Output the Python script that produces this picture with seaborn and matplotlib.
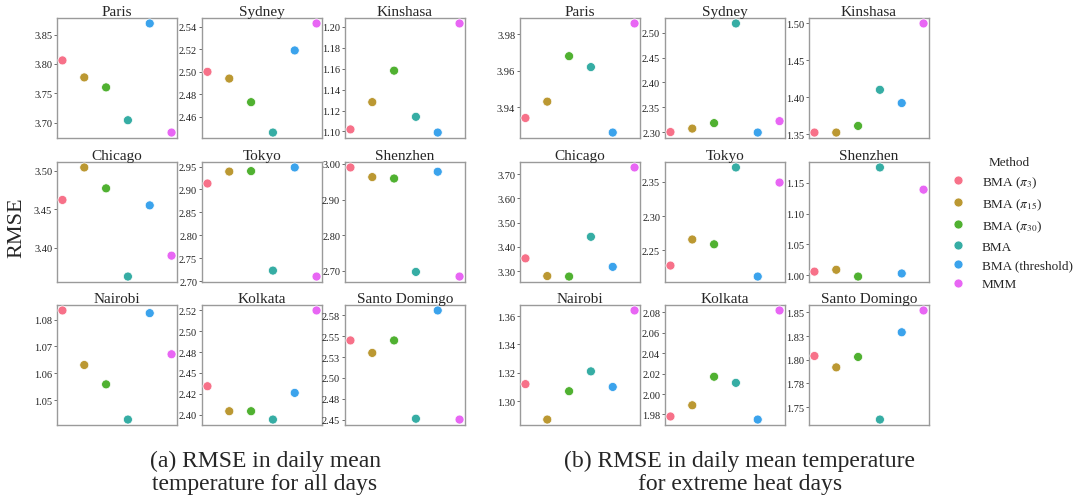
import numpy as np
import pandas as pd
import matplotlib
matplotlib.use("Agg")
import matplotlib.pyplot as plt
from matplotlib.ticker import FormatStrFormatter, MaxNLocator
import seaborn as sns

sns.set_style("white")
plt.rcParams['font.family'] = ['Liberation Serif', 'DejaVu Serif']
plt.rcParams['mathtext.fontset'] = 'stix'

methods = ["BMA ($\\pi_3$)", "BMA ($\\pi_{15}$)", "BMA ($\\pi_{30}$)", "BMA", "BMA (threshold)", "MMM"]
cities = ["Paris", "Sydney", "Kinshasa", "Chicago", "Tokyo", "Shenzhen",
          "Nairobi", "Kolkata", "Santo Domingo"]

# (a) RMSE for all days
paris_all = [3.806, 3.777, 3.760, 3.704, 3.869, 3.683]
sydney_all = [2.500, 2.494, 2.473, 2.446, 2.519, 2.543]
kinshasa_all = [1.102, 1.128, 1.158, 1.114, 1.099, 1.203]
chicago_all = [3.462, 3.504, 3.477, 3.363, 3.455, 3.390]
tokyo_all = [2.913, 2.939, 2.940, 2.723, 2.948, 2.710]
shenzhen_all = [2.990, 2.963, 2.959, 2.697, 2.978, 2.684]
nairobi_all = [1.0834, 1.0631, 1.0559, 1.0428, 1.0824, 1.0671]
kolkata_all = [2.434, 2.404, 2.404, 2.394, 2.426, 2.525]
santo_domingo_all = [2.545, 2.530, 2.545, 2.451, 2.581, 2.450]

# (b) RMSE for extreme heat days
paris_heat = [3.934, 3.943, 3.968, 3.962, 3.926, 3.986]
sydney_heat = [2.300, 2.307, 2.318, 2.519, 2.299, 2.322]
kinshasa_heat = [1.352, 1.352, 1.361, 1.410, 1.392, 1.500]
chicago_heat = [3.353, 3.280, 3.278, 3.442, 3.318, 3.728]
tokyo_heat = [2.228, 2.266, 2.259, 2.371, 2.212, 2.349]
shenzhen_heat = [1.006, 1.009, 0.998, 1.175, 1.003, 1.139]
nairobi_heat = [1.312, 1.287, 1.307, 1.321, 1.310, 1.364]
kolkata_heat = [1.978, 1.989, 2.017, 2.011, 1.975, 2.082]
santo_domingo_heat = [1.804, 1.792, 1.803, 1.737, 1.829, 1.852]

panels = [
    [paris_all, sydney_all, kinshasa_all, chicago_all, tokyo_all, shenzhen_all,
     nairobi_all, kolkata_all, santo_domingo_all],
    [paris_heat, sydney_heat, kinshasa_heat, chicago_heat, tokyo_heat, shenzhen_heat,
     nairobi_heat, kolkata_heat, santo_domingo_heat],
]

palette = sns.color_palette("husl", 6)

W, H = 1086, 502
fig = plt.figure(figsize=(W / 100, H / 100), dpi=100)

col_lefts = [[57, 202, 345], [520, 665, 809]]
row_tops = [19, 163, 306]
aw, ah = 120, 120

handles = None
for p, data in enumerate(panels):
    for i, city in enumerate(cities):
        r, c = divmod(i, 3)
        left = col_lefts[p][c]
        top = row_tops[r]
        ax = fig.add_axes([left / W, 1 - (top + ah) / H, aw / W, ah / H])
        df = pd.DataFrame({"x": np.arange(len(methods)), "RMSE": data[i], "Method": methods})
        sns.scatterplot(data=df, x="x", y="RMSE", hue="Method", hue_order=methods,
                        palette=palette, s=42, ax=ax, legend=(p == 0 and i == 0),
                        clip_on=False, zorder=3)
        if p == 0 and i == 0:
            handles, labels = ax.get_legend_handles_labels()
            ax.get_legend().remove()
        ax.set_title(city, fontsize=11, pad=2)
        ax.set_xlabel("")
        ax.set_ylabel("")
        ax.set_xticks([])
        ax.yaxis.set_major_locator(MaxNLocator(nbins=6, steps=[1, 2, 2.5, 5, 10]))
        ax.yaxis.set_major_formatter(FormatStrFormatter('%.2f'))
        ax.tick_params(axis='y', labelsize=7.5, length=2.5, width=0.6, color='#555555',
                       pad=1, left=True, labelcolor='#222222')
        for sp in ax.spines.values():
            sp.set_color('#9a9a9a')
            sp.set_linewidth(1.0)

fig.text(17 / W, 1 - 228 / H, "RMSE", rotation=90, fontsize=16, ha='center', va='center')

leg = fig.legend(handles, labels, title="Method", loc='center left',
                 bbox_to_anchor=(933 / W, 1 - 224 / H), frameon=False,
                 fontsize=9.5, title_fontsize=9.5, handletextpad=0.8,
                 labelspacing=0.5, markerscale=1.0)

fig.text(265 / W, 1 - 473 / H, "(a) RMSE in daily mean\ntemperature for all days",
         fontsize=17, ha='center', va='center', linespacing=1.12)
fig.text(740 / W, 1 - 473 / H, "(b) RMSE in daily mean temperature\nfor extreme heat days",
         fontsize=17, ha='center', va='center', linespacing=1.12)

fig.savefig("out.png", dpi=100)
